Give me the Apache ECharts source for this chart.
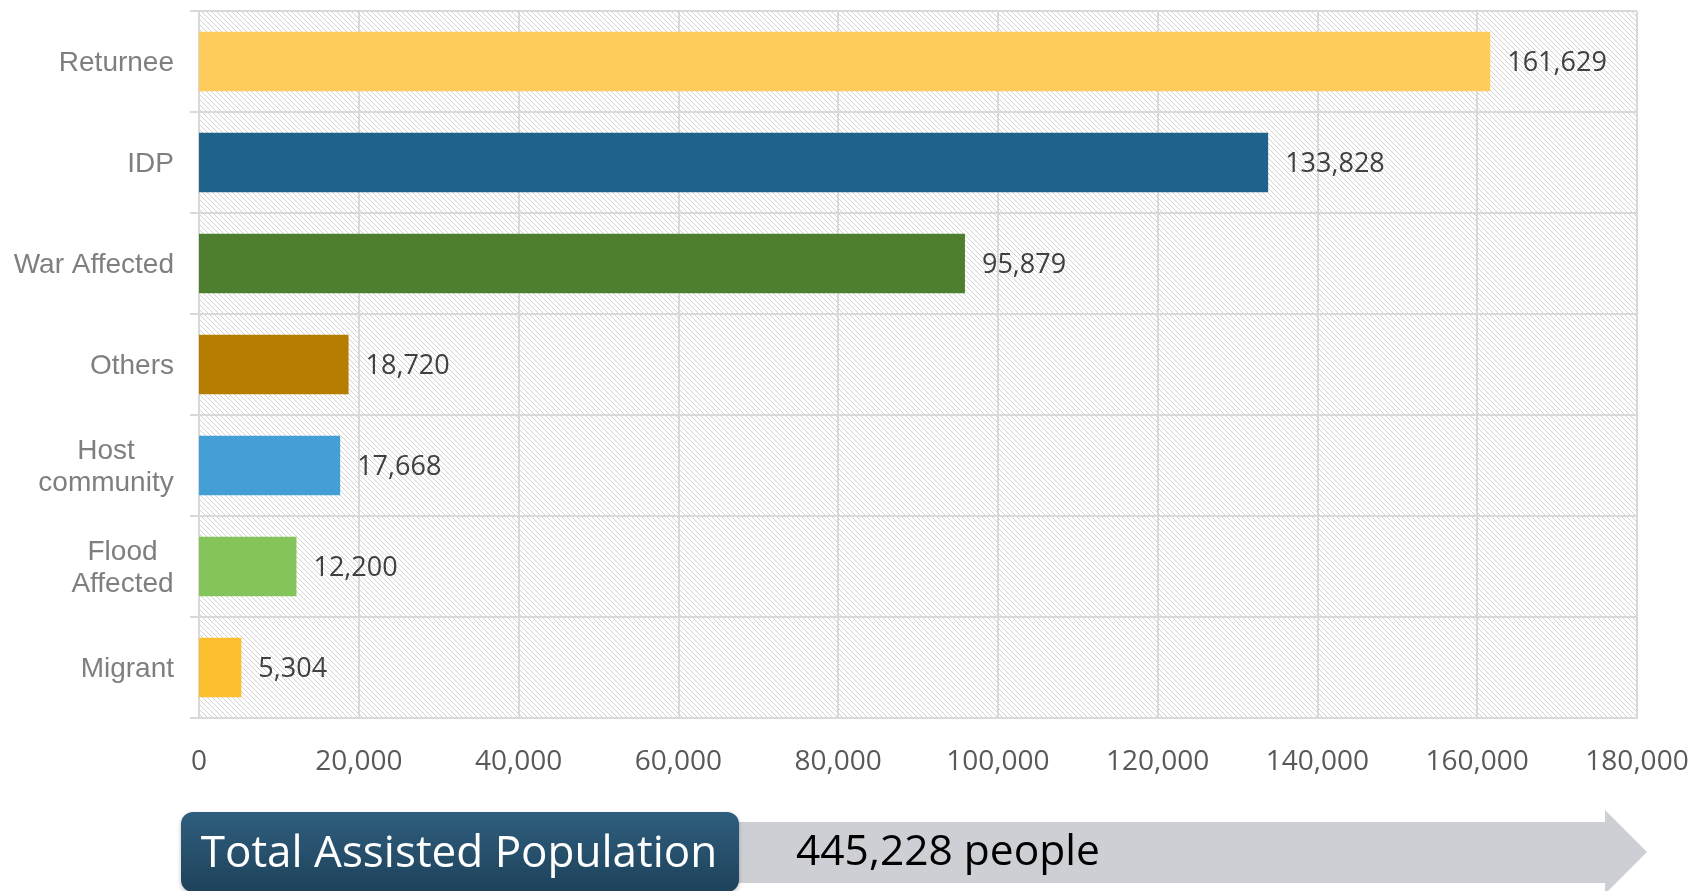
<!DOCTYPE html>
<html>
<head>
<meta charset="utf-8">
<script src="https://cdn.jsdelivr.net/npm/echarts@6/dist/echarts.min.js"></script>
<style>
html,body{margin:0;padding:0;background:#fff;}
#chart{width:1694px;height:891px;}
</style>
</head>
<body>
<div id="chart"></div>
<script>
// ---- data ----
var categories = ['Returnee', 'IDP', 'War Affected', 'Others', 'Host\ncommunity', 'Flood\nAffected', 'Migrant'];
var values = [161629, 133828, 95879, 18720, 17668, 12200, 5304];
var barColors = ['#FECB5C', '#1F628C', '#4E7F2F', '#B57E01', '#449FD7', '#84C45A', '#FCBF30'];
var xTicks = [0, 20000, 40000, 60000, 80000, 100000, 120000, 140000, 160000, 180000];
var bannerTitle = 'Total Assisted Population';
var bannerUnit = 'people';

// ---- hatch pattern for plot background ----
var pat = document.createElement('canvas');
pat.width = 5; pat.height = 5;
var pc = pat.getContext('2d');
pc.fillStyle = '#ffffff';
pc.fillRect(0, 0, 5, 5);
pc.strokeStyle = '#d2d2d2';
pc.lineWidth = 1;
pc.beginPath();
pc.moveTo(-1, -1); pc.lineTo(6, 6);
pc.moveTo(-1, 4); pc.lineTo(1, 6);
pc.moveTo(4, -1); pc.lineTo(6, 1);
pc.stroke();

function fmt(v) { return v.toLocaleString('en-US'); }
var total = values.reduce(function (a, b) { return a + b; }, 0);

var labelFont = 'Liberation Sans, Arial, sans-serif';
var measureCtx = document.createElement('canvas').getContext('2d');
measureCtx.font = '28px ' + labelFont;

var richStyles = {};
function yLabel(v) {
  if (v.indexOf('\n') >= 0) {
    var lines = v.split('\n');
    var w = Math.ceil(Math.max.apply(null, lines.map(function (s) { return measureCtx.measureText(s).width; })));
    var key = 'w' + w;
    richStyles[key] = {
      width: w, align: 'center', color: '#7f7f7f',
      fontFamily: labelFont, fontSize: 28, lineHeight: 32
    };
    return lines.map(function (s) { return '{' + key + '|' + s + '}'; }).join('\n');
  }
  return v;
}
categories.forEach(yLabel);

var chart = echarts.init(document.getElementById('chart'), null, {renderer: 'canvas'});
var option = {
  backgroundColor: '#ffffff',
  animation: false,
  grid: {
    left: 199, right: 57, top: 11, bottom: 173,
    show: true,
    borderWidth: 0,
    backgroundColor: {image: pat, repeat: 'repeat'}
  },
  xAxis: {
    type: 'value',
    min: 0, max: 180000, interval: 20000,
    axisLine: {show: true, lineStyle: {color: '#d9d9d9', width: 2}},
    axisTick: {show: false},
    splitLine: {show: true, lineStyle: {color: '#d9d9d9', width: 2}},
    axisLabel: {
      margin: 30,
      color: '#595959',
      fontFamily: 'Open Sans',
      fontSize: 28,
      formatter: function (v) { return xTicks.indexOf(v) >= 0 ? fmt(v) : ''; }
    }
  },
  yAxis: {
    type: 'category',
    inverse: true,
    data: categories,
    axisLine: {show: true, lineStyle: {color: '#d9d9d9', width: 2}},
    axisTick: {show: true, length: 9, lineStyle: {color: '#d9d9d9', width: 2}},
    splitLine: {show: true, lineStyle: {color: '#d9d9d9', width: 2}},
    axisLabel: {
      margin: 25,
      color: '#7f7f7f',
      fontFamily: labelFont,
      fontSize: 28,
      lineHeight: 32,
      padding: [4, 0, 0, 0],
      formatter: yLabel,
      rich: richStyles
    }
  },
  series: [{
    type: 'bar',
    data: values.map(function (v, i) {
      return {value: v, itemStyle: {color: barColors[i]}};
    }),
    barWidth: '59%',
    label: {
      show: true,
      position: 'right',
      distance: 17,
      color: '#404040',
      fontFamily: 'Open Sans',
      fontSize: 27,
      offset: [0, 2],
      formatter: function (p) { return fmt(p.value); }
    }
  }],
  graphic: [
    {
      type: 'polygon',
      z: 10,
      shape: {points: [[700, 822], [1605, 822], [1605, 810], [1647, 852], [1605, 894], [1605, 883], [700, 883]]},
      style: {fill: '#CDCFD4'}
    },
    {
      type: 'rect',
      z: 11,
      shape: {x: 181, y: 812, width: 558, height: 80, r: 12},
      style: {
        fill: new echarts.graphic.LinearGradient(0, 0, 0, 1, [
          {offset: 0, color: '#2F5E7E'},
          {offset: 1, color: '#1E425A'}
        ]),
        shadowBlur: 4, shadowColor: 'rgba(0,0,0,0.25)', shadowOffsetY: 2
      }
    },
    {
      type: 'text',
      z: 12,
      x: 459, y: 854,
      style: {
        text: bannerTitle,
        fill: '#ffffff',
        font: '44px "Open Sans"',
        textAlign: 'center',
        textVerticalAlign: 'middle'
      }
    },
    {
      type: 'text',
      z: 12,
      x: 796, y: 853,
      style: {
        text: fmt(total) + ' ' + bannerUnit,
        fill: '#000000',
        font: '42.5px "Open Sans"',
        textAlign: 'left',
        textVerticalAlign: 'middle'
      }
    }
  ]
};
chart.setOption(option);
</script>
</body>
</html>
